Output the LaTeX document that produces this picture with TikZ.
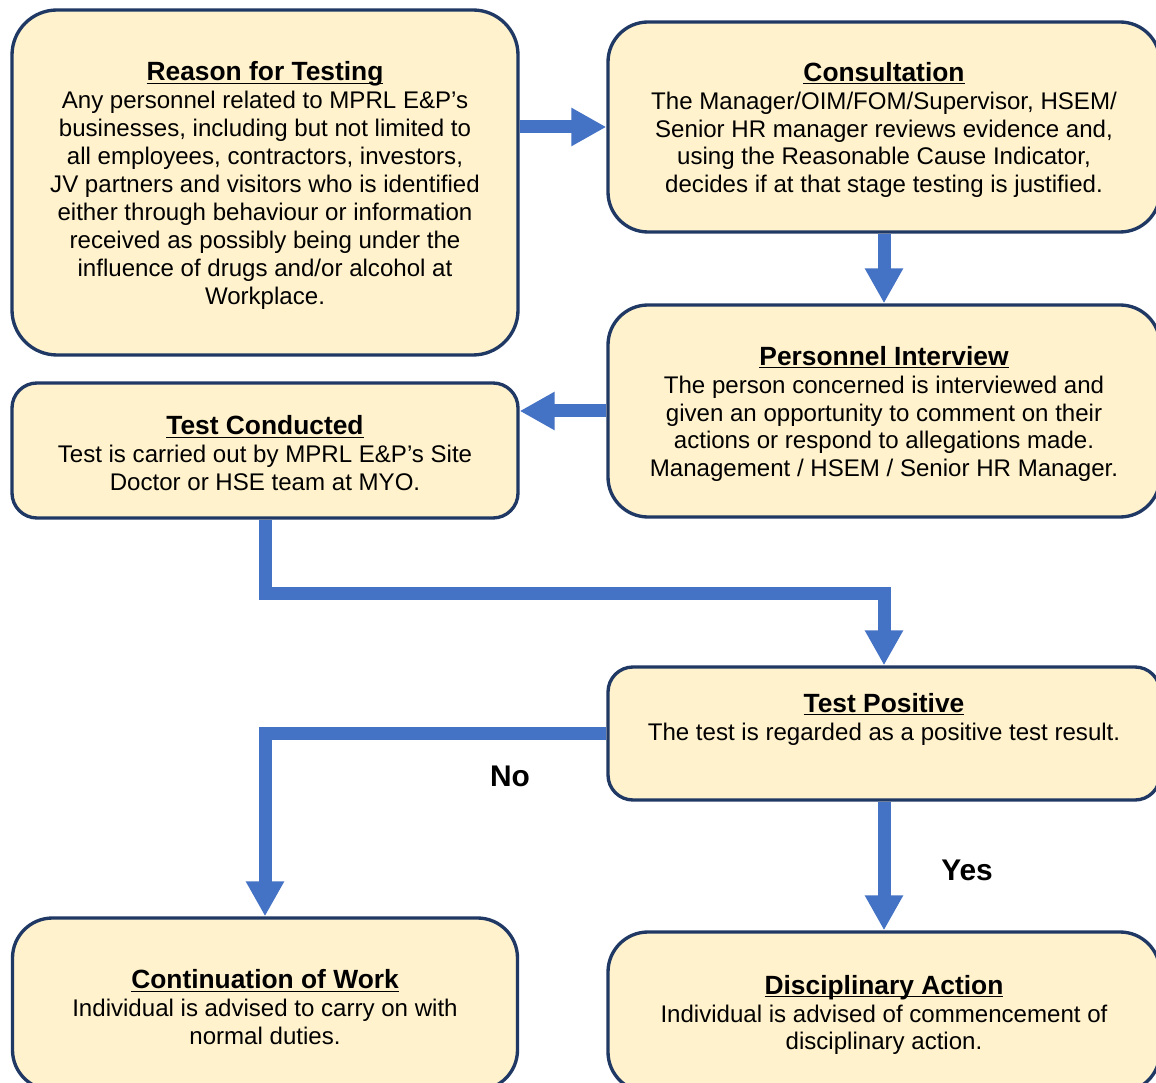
\documentclass[tikz,border=0pt]{standalone}
\usepackage{fontspec}
\setmainfont{Liberation Sans}
\usetikzlibrary{arrows.meta,shapes}
\definecolor{boxfill}{HTML}{FFF2CC}
\definecolor{boxline}{HTML}{1F3864}
\definecolor{flowblue}{HTML}{4472C4}
\newcommand{\heading}[1]{{\fontsize{15}{16}\selectfont\bfseries\underline{\raisebox{0pt}[\dimexpr\height+0.12cm\relax][0pt]{#1}}}}
\tikzset{
    block/.style = {draw=boxline, fill=boxfill, line width=1.9pt, rectangle,
        rounded corners=0.5cm,
        minimum width=11.04cm, align=center,
        font=\fontsize{13.7}{15.9}\selectfont},
    arrow/.style = {draw=flowblue, line width=0.26cm, -{Triangle[length=0.7cm,width=0.72cm]}},
    answer/.style = {font=\fontsize{17}{20}\selectfont\bfseries}
}

\begin{document}
\begin{tikzpicture}
        \useasboundingbox (0,0) rectangle (23.12,-21.66);
        \clip (0,0) rectangle (23.12,-21.66);
        \node [block, rounded corners=0.9cm, minimum width=10.12cm, minimum height=6.9cm] (reason) at (5.30,-3.65)
            {\heading{Reason for Testing}\\
            Any personnel related to MPRL E\&P’s\\
            businesses, including but not limited to\\
            all employees, contractors, investors,\\
            JV partners and visitors who is identified\\
            either through behaviour or information\\
            received as possibly being under the\\
            influence of drugs and/or alcohol at\\
            Workplace.};
        \node [block, rounded corners=0.8cm, minimum height=4.2cm] (consult) at (17.68,-2.54)
            {\heading{Consultation}\\
            The Manager/OIM/FOM/Supervisor, HSEM/\\
            Senior HR manager reviews evidence and,\\
            using the Reasonable Cause Indicator,\\
            decides if at that stage testing is justified.};
        \draw [arrow] (reason.east |- consult.west) -- (consult.west);
        \node [block, below of=consult, node distance=5.68cm, rounded corners=0.8cm, minimum height=4.24cm] (interview)
            {\heading{Personnel Interview}\\
            The person concerned is interviewed and\\
            given an opportunity to comment on their\\
            actions or respond to allegations made.\\
            Management / HSEM / Senior HR Manager.};
        \draw [arrow] (consult) -- (interview);
        \node [block, below of=reason, node distance=5.36cm, minimum width=10.12cm, minimum height=2.7cm] (conducted)
            {\heading{Test Conducted}\\
            Test is carried out by MPRL E\&P’s Site\\
            Doctor or HSE team at MYO.};
        \draw [arrow] (interview.west) -- (interview.west -| conducted.east);
        \node [block, below of=interview, node distance=6.45cm, minimum height=2.66cm] (positive)
            {\heading{Test Positive}\\
            The test is regarded as a positive test result.\\[0.24cm] \mbox{}};
        \draw [arrow] (conducted.south) -- ++(0,-1.48) -| (positive.north);
        \node [block, below of=conducted, node distance=11.07cm, rounded corners=0.8cm, minimum width=10.1cm, minimum height=3.44cm] (continue)
            {\heading{Continuation of Work}\\
            Individual is advised to carry on with\\
            normal duties.};
        \draw [arrow] (positive.west) -| (continue.north);
        \node [answer] (no) at (10.2,-15.52) {No};
        \node [block, below of=positive, node distance=5.57cm, rounded corners=0.8cm, minimum height=3.2cm] (discipline)
            {\heading{Disciplinary Action}\\
            Individual is advised of commencement of\\
            disciplinary action.};
        \draw [arrow] (positive) -- (discipline);
        \node [answer] (yes) at (19.34,-17.4) {Yes};
\end{tikzpicture}
\end{document}
